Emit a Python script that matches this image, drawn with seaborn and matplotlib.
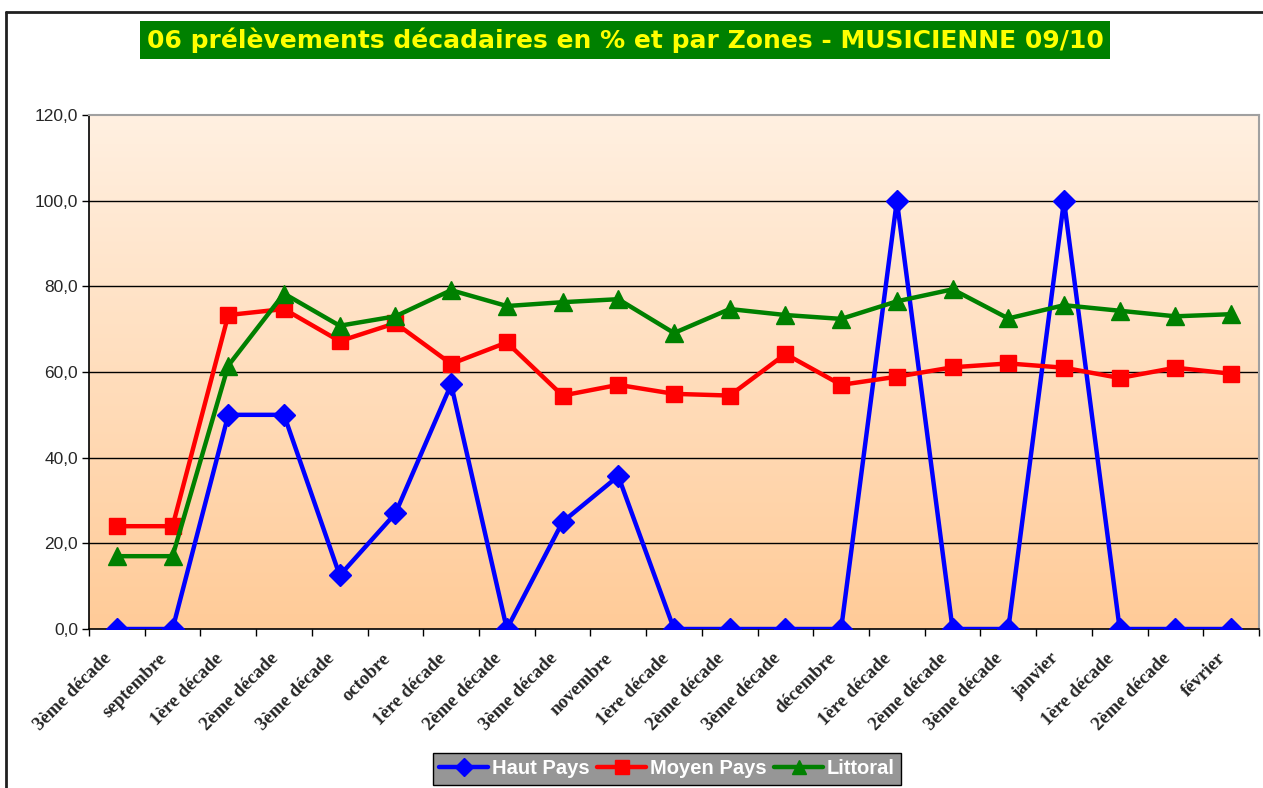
import numpy as np
import pandas as pd
import matplotlib
matplotlib.use("Agg")
import matplotlib.pyplot as plt
from matplotlib.colors import LinearSegmentedColormap
from matplotlib.lines import Line2D
from matplotlib.ticker import FuncFormatter, FixedLocator
import matplotlib.transforms as mtransforms
import seaborn as sns

categories = ["3ème décade", "septembre", "1ère décade", "2ème décade", "3ème décade",
              "octobre", "1ère décade", "2ème décade", "3ème décade", "novembre",
              "1ère décade", "2ème décade", "3ème décade", "décembre", "1ère décade",
              "2ème décade", "3ème décade", "janvier", "1ère décade", "2ème décade", "février"]
haut_pays = [0, 0, 50, 50, 12.5, 27, 57.1, 0, 25, 35.7, 0, 0, 0, 0, 100, 0, 0, 100, 0, 0, 0]
moyen_pays = [24, 24, 73.3, 74.7, 67.2, 71.4, 61.9, 66.9, 54.5, 57.0, 54.9, 54.5, 64.2, 57.0,
              58.9, 61.1, 62.0, 61.0, 58.6, 61.0, 59.6]
littoral = [17, 17, 61.5, 78.3, 70.8, 73.0, 79.1, 75.4, 76.3, 77.0, 69.1, 74.7, 73.3, 72.4,
            76.5, 79.3, 72.5, 75.6, 74.3, 73.0, 73.5]
series_names = ["Haut Pays", "Moyen Pays", "Littoral"]
title = "06 prélèvements décadaires en % et par Zones - MUSICIENNE 09/10"

sns.set_theme(style="white")
plt.rcParams['font.family'] = ['DejaVu Sans']

fig = plt.figure(figsize=(12.63, 7.88), dpi=100)
ax = fig.add_axes([89/1263, 1-629/788, (1259-89)/1263, (629-115)/788])

n = len(categories)
df = pd.DataFrame({
    "idx": list(range(n)) * 3,
    "val": haut_pays + moyen_pays + littoral,
    "zone": sum([[s] * n for s in series_names], []),
})

# gradient background
cmap = LinearSegmentedColormap.from_list("bg", ["#FFCB98", "#FFF0E1"])
grad = np.linspace(0, 1, 256).reshape(-1, 1)
ax.imshow(grad, extent=[-0.5, n - 0.5, 0, 120], aspect='auto', cmap=cmap,
          origin='lower', zorder=0)

# gridlines
for v in [20, 40, 60, 80, 100]:
    ax.axhline(v, color="black", lw=1.0, zorder=1)

styles = {"Haut Pays": ("#0000FF", "D", 11),
          "Moyen Pays": ("#FF0000", "s", 11.5),
          "Littoral": ("#008000", "^", 12.5)}
for name in series_names:
    c, m, ms = styles[name]
    sns.lineplot(data=df[df.zone == name], x="idx", y="val", ax=ax, color=c,
                 marker=m, markersize=ms, markeredgecolor=c, markeredgewidth=1,
                 linewidth=3.2, zorder=3, label=name, legend=False)

ax.set_xlim(-0.5, n - 0.5)
ax.set_ylim(0, 120)
ax.set_xlabel("")
ax.set_ylabel("")

ax.xaxis.set_major_locator(FixedLocator(range(n)))
ax.set_xticklabels(categories, rotation=45, ha='right', rotation_mode='anchor',
                   fontfamily='Liberation Serif', fontweight='bold', fontsize=13.5)
ax.xaxis.set_minor_locator(FixedLocator(np.arange(-0.5, n, 1)))
ax.tick_params(axis='x', which='major', length=0, pad=15)
ax.tick_params(axis='x', which='minor', length=5, width=1, color='black', direction='out', bottom=True)
shift = mtransforms.ScaledTranslation(-14/100, 0, fig.dpi_scale_trans)
for lab in ax.get_xticklabels():
    lab.set_transform(lab.get_transform() + shift)

ax.set_yticks([0, 20, 40, 60, 80, 100, 120])
ax.yaxis.set_major_formatter(FuncFormatter(lambda v, p: f"{v:.1f}".replace('.', ',')))
ax.tick_params(axis='y', length=5, width=1, color='black', direction='out', left=True, pad=3)
for lab in ax.get_yticklabels():
    lab.set_fontfamily('Liberation Sans')
    lab.set_fontsize(12.5)

for s in ['left', 'bottom']:
    ax.spines[s].set_color('black')
    ax.spines[s].set_linewidth(1.2)
for s in ['top', 'right']:
    ax.spines[s].set_color('#A0A0A0')
    ax.spines[s].set_linewidth(1.5)

# outer border lines
fig.add_artist(Line2D([6/1263, 1], [1-12/788, 1-12/788], transform=fig.transFigure,
                      color='#202020', lw=2))
fig.add_artist(Line2D([6/1263, 6/1263], [0, 1-12/788], transform=fig.transFigure,
                      color='#202020', lw=2))

# title
fig.text(625/1263, 1-40/788, title, ha='center', va='center', color='#FFFF00',
         fontsize=18, fontweight='bold', fontfamily='DejaVu Sans',
         bbox=dict(boxstyle='square,pad=0.25', facecolor='#008000', edgecolor='none'))

# legend
handles = [Line2D([], [], color=styles[nm][0], marker=styles[nm][1], markersize=styles[nm][2] - 2,
                  lw=3.2, markeredgecolor=styles[nm][0]) for nm in series_names]
leg = fig.legend(handles, series_names, loc='center', bbox_to_anchor=(667/1263, 1-769/788),
                 ncol=3, frameon=True, fancybox=False, facecolor='#969696', edgecolor='black',
                 framealpha=1, handlelength=2.4, handletextpad=0.2, columnspacing=0.4,
                 borderpad=0.3, prop={'family': 'Liberation Sans', 'weight': 'bold', 'size': 14.5})
for t in leg.get_texts():
    t.set_color('white')

fig.savefig("out.png", dpi=100)
